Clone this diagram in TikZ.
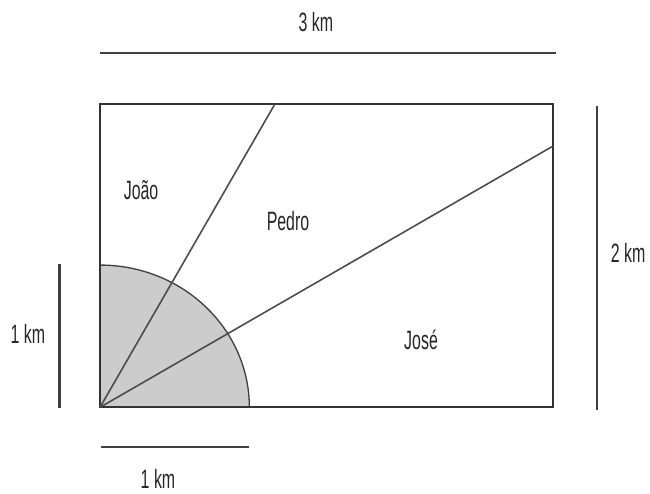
\documentclass[tikz,border=0pt]{standalone}
\usepackage{fontspec}
\setmainfont{Liberation Sans}[FakeStretch=0.6]
\usepackage{tikz}
\usetikzlibrary{positioning,calc}

\begin{document}
\begin{tikzpicture}[
    font=\fontsize{5}{6}\selectfont,
    field/.style={draw=black!80, line width=0.4pt},
    ray/.style={draw=black!70, line width=0.3pt},
    sector/.style={fill=black!20, draw=black!75, line width=0.25pt},
    bar/.style={draw=black!75, line width=0.4pt},
    lbl/.style={inner sep=0pt, text=black!85}
]
\useasboundingbox (-0.6623,-0.5675) rectangle (3.6424,2.6974);

% corners of the field
\coordinate (O) at (0,0);
\coordinate (C) at (3,2.01);
\coordinate (topcut) at (1.159,2.01);
\coordinate (sidecut) at (3,1.730);

% shaded quarter circle
\path[sector] (O) -- (0.989,0) arc[start angle=0, end angle=90, x radius=0.989, y radius=0.942] -- cycle;
\draw[field] (O) rectangle (C);
\draw[ray] (O) -- (topcut);
\draw[ray] (O) -- (sidecut);

% measuring bars
\coordinate (t1) at (0,2.346);   \coordinate (t2) at (3.02,2.346);
\coordinate (r1) at (3.291,-0.018); \coordinate (r2) at (3.291,1.995);
\coordinate (l1) at (-0.268,-0.005); \coordinate (l2) at (-0.268,0.949);
\coordinate (b1) at (0.007,-0.263); \coordinate (b2) at (0.985,-0.263);
\draw[bar] (t1) -- (t2);
\draw[bar] (r1) -- (r2);
\draw[bar] (l1) -- (l2);
\draw[bar] (b1) -- (b2);

% labels
\node[lbl] (top) at (1.43,2.552) {3 km};
\node[lbl] (right) at (3.497,1.022) {2 km};
\node[lbl] (left) at (-0.477,0.485) {1 km};
\node[lbl] (bottom) at (0.384,-0.475) {1 km};
\node[lbl] (joao) at (0.272,1.439) {João};
\node[lbl] (pedro) at (1.245,1.234) {Pedro};
\node[lbl] (jose) at (2.126,0.446) {José};
\end{tikzpicture}
\end{document}
